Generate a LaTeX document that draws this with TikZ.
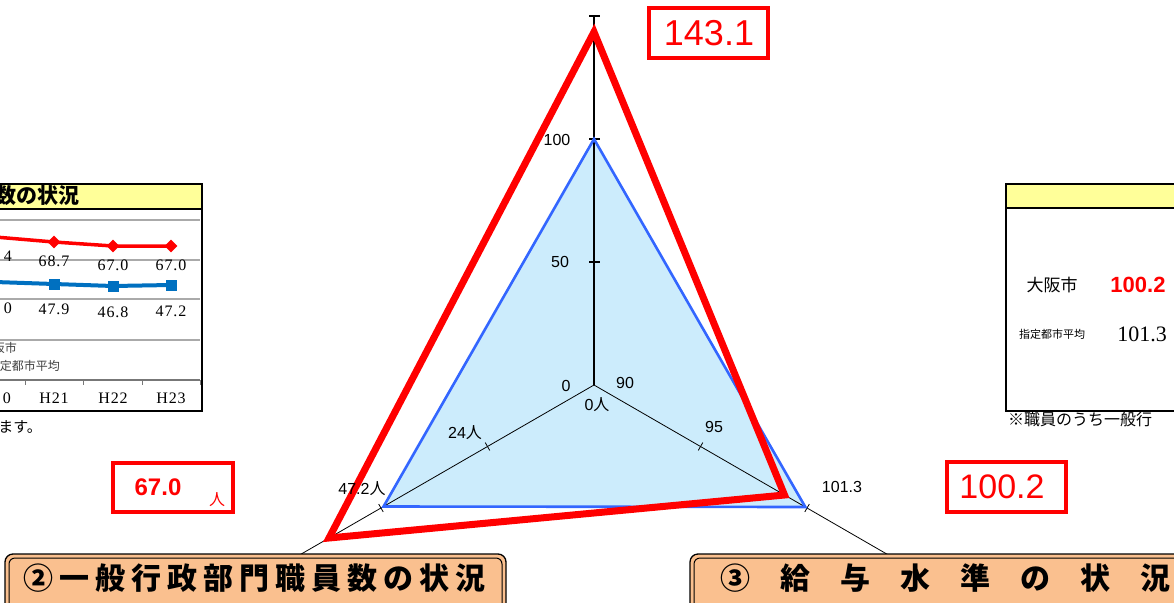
\documentclass[tikz,border=0pt]{standalone}
\usepackage{fontspec}
\setmainfont{Liberation Sans}
\newfontfamily\jp{Noto Sans CJK JP}
\newfontfamily\mincho{Liberation Serif}
\usetikzlibrary{calc,shapes.geometric}
\definecolor{lblue}{RGB}{204,236,252}
\definecolor{sblue}{RGB}{51,102,255}
\definecolor{tblue}{RGB}{0,112,192}
\definecolor{peach}{RGB}{250,192,143}
\definecolor{ylw}{RGB}{255,255,153}
\definecolor{gridc}{RGB}{170,170,170}
\newcommand{\fs}[1]{\fontsize{#1}{#1}\selectfont}
\begin{document}
\begin{tikzpicture}[x=1pt,y=-1pt,
  lbl/.style={inner sep=0pt,font=\fs{16}},
  tlbl/.style={inner sep=0pt,font=\mincho\fs{16}\addfontfeature{LetterSpace=6}},
  redbox/.style={draw=red,line width=3.5pt},
  axisline/.style={black,line width=0.8pt},
  tickmark/.style={black,line width=0.8pt},
  titlebox/.style={fill=peach,draw=black,line width=1.3pt,rounded corners=8pt},
  titleinner/.style={draw=black,line width=1pt,rounded corners=6pt},
  gridline/.style={gridc,line width=1.5pt},
  tablebox/.style={black,line width=2pt}]
\useasboundingbox (0,0) rectangle (1174,602);
\fill[white] (0,0) rectangle (1174,602);

% ---------- left partial table ----------
\fill[ylw] (-10,184) rectangle (202,209);
\draw[tablebox] (-10,184) -- (202,184) -- (202,411) -- (-10,411);
\draw[tablebox] (-10,209) -- (202,209);
\node[anchor=east,inner sep=0pt,font=\jp\bfseries\fs{21}] (thead) at (80,196) {数の状況};
\foreach \y in {220,260,299,340} \draw[gridline] (-5,\y) -- (200,\y);
\draw[gridc!70!black,line width=1.5pt] (-5,380) -- (200,380);
\foreach \x in {25,83,142,200} \draw[gridc!70!black,line width=1pt] (\x,380) -- (\x,385);
\coordinate (r0) at (-5,237);
\node[diamond,fill=red,minimum size=13pt,inner sep=0pt] (r1) at (54,242) {};
\node[diamond,fill=red,minimum size=13pt,inner sep=0pt] (r2) at (113,246) {};
\node[diamond,fill=red,minimum size=13pt,inner sep=0pt] (r3) at (171,246) {};
\draw[red,line width=3.5pt] (r0) -- (r1.center) -- (r2.center) -- (r3.center);
\coordinate (b0) at (-5,282);
\node[rectangle,fill=tblue,minimum size=11pt,inner sep=0pt] (b1) at (54,284) {};
\node[rectangle,fill=tblue,minimum size=11pt,inner sep=0pt] (b2) at (113,286) {};
\node[rectangle,fill=tblue,minimum size=11pt,inner sep=0pt] (b3) at (171,285) {};
\draw[tblue,line width=4pt] (b0) -- (b1.center) -- (b2.center) -- (b3.center);
\node[tlbl,anchor=east] (tr0) at (12,256) {4};
\node[tlbl] (tr1) at (54,261) {68.7};
\node[tlbl] (tr2) at (113,265) {67.0};
\node[tlbl] (tr3) at (171,265) {67.0};
\node[tlbl,anchor=east] (tb0) at (12,308) {0};
\node[tlbl] (tb1) at (54,309) {47.9};
\node[tlbl] (tb2) at (113,312) {46.8};
\node[tlbl] (tb3) at (171,311) {47.2};
\node[anchor=east,inner sep=0pt,font=\jp\fs{12},text=black!75] (leg1) at (17,348) {大阪市};
\node[anchor=east,inner sep=0pt,font=\jp\fs{12},text=black!75] (leg2) at (60,366) {指定都市平均};
\node[tlbl,anchor=east] (h20) at (11,398) {0};
\node[tlbl] (h21) at (54,398) {H21};
\node[tlbl] (h22) at (113,398) {H22};
\node[tlbl] (h23) at (171,398) {H23};
\node[anchor=east,inner sep=0pt,font=\jp\fs{15}] (tnote) at (42,427) {ます。};

% ---------- right partial table ----------
\fill[ylw] (1006,184) rectangle (1180,208);
\draw[tablebox] (1180,184) -- (1006,184) -- (1006,411) -- (1180,411);
\draw[tablebox] (1006,208) -- (1180,208);
\node[inner sep=0pt,font=\jp\fs{17}] (osaka) at (1052,285) {大阪市};
\node[inner sep=0pt,font=\bfseries\fs{22},text=red] (osakav) at (1138,285) {100.2};
\node[inner sep=0pt,font=\jp\fs{11}] (avg) at (1052,334) {指定都市平均};
\node[inner sep=0pt,font=\mincho\fs{22}] (avgv) at (1142,334) {101.3};
\node[anchor=west,inner sep=0pt,font=\jp\fs{16}] (rnote) at (1008,419) {※職員のうち一般行};

% ---------- radar chart ----------
\coordinate (C) at (594,385);
\coordinate (Atop) at ($(C)+(270:369)$);
\coordinate (Aleft) at ($(C)+(150:372)$);
\coordinate (Aright) at ($(C)+(30:372)$);
\coordinate (Btop) at ($(C)+(270:246)$);
\coordinate (Bleft) at ($(C)+(150:243)$);
\coordinate (Bright) at ($(C)+(30:244)$);
\coordinate (Rtop) at ($(C)+(270:353)$);
\coordinate (Rleft) at ($(C)+(150:306)$);
\coordinate (Rright) at ($(C)+(30:220)$);
\fill[lblue] (Btop) -- (Bleft) -- (Bright) -- cycle;
\draw[black,line width=1.6pt] (C) -- (Atop);
\draw[axisline] (C) -- (Aleft);
\draw[axisline] (C) -- (Aright);
\foreach \r in {123,246,369} {
  \draw[black,line width=1.2pt] ($(C)+(270:\r)+(0:5.5)$) -- ($(C)+(270:\r)+(180:5.5)$);
  \draw[tickmark] ($(C)+(150:\r)+(60:4.5)$) -- ($(C)+(150:\r)+(240:4.5)$);
  \draw[tickmark] ($(C)+(30:\r)+(120:4.5)$) -- ($(C)+(30:\r)+(300:4.5)$);
}
\draw[sblue,line width=2.6pt,line join=miter] (Btop) -- (Bleft) -- (Bright) -- cycle;
\draw[red,line width=7pt,line join=miter,miter limit=20] (Rtop) -- (Rleft) -- (Rright) -- cycle;

\node[lbl] (l0) at (566,386) {0};
\node[lbl] (l50) at (560,262) {50};
\node[lbl] (l100) at (557,140) {100};
\node[lbl] (l90) at (625,383) {90};
\node[lbl] (l0n) at (597,405) {0{\jp 人}};
\node[lbl] (l24) at (465,433) {24{\jp 人}};
\node[lbl] (l95) at (714,427) {95};
\node[lbl] (l472) at (362,489) {47.2{\jp 人}};
\node[lbl] (l1013) at (842,487) {101.3};

% ---------- red value boxes ----------
\draw[redbox] (649,8) rectangle (768,58);
\node[inner sep=0pt,font=\fs{36},text=red] (v143) at (709,33) {143.1};
\draw[redbox] (113,463) rectangle (233,512);
\node[inner sep=0pt,font=\bfseries\fs{24},text=red] (v67) at (158,487) {67.0};
\node[inner sep=0pt,font=\jp\fs{16},text=red] (v67u) at (217,500) {人};
\draw[redbox] (947,462) rectangle (1066,512);
\node[inner sep=0pt,font=\fs{34},text=red] (v1002) at (1002,487) {100.2};

% ---------- title boxes ----------
\draw[titlebox] (5,554) rectangle (506,625);
\draw[titleinner] (9,558) rectangle (502,621);
\node[inner sep=0pt,font=\jp\bfseries\fs{30}\addfontfeature{LetterSpace=20}] (t2) at (254,578) {②一般行政部門職員数の状況};
\draw[titlebox] (690,554) rectangle (1200,625);
\draw[titleinner] (694,558) rectangle (1196,621);
\node[anchor=west,inner sep=0pt,font=\jp\bfseries\fs{30}] (t3) at (720,578) {③　給　与　水　準　の　状　況};
\end{tikzpicture}
\end{document}
